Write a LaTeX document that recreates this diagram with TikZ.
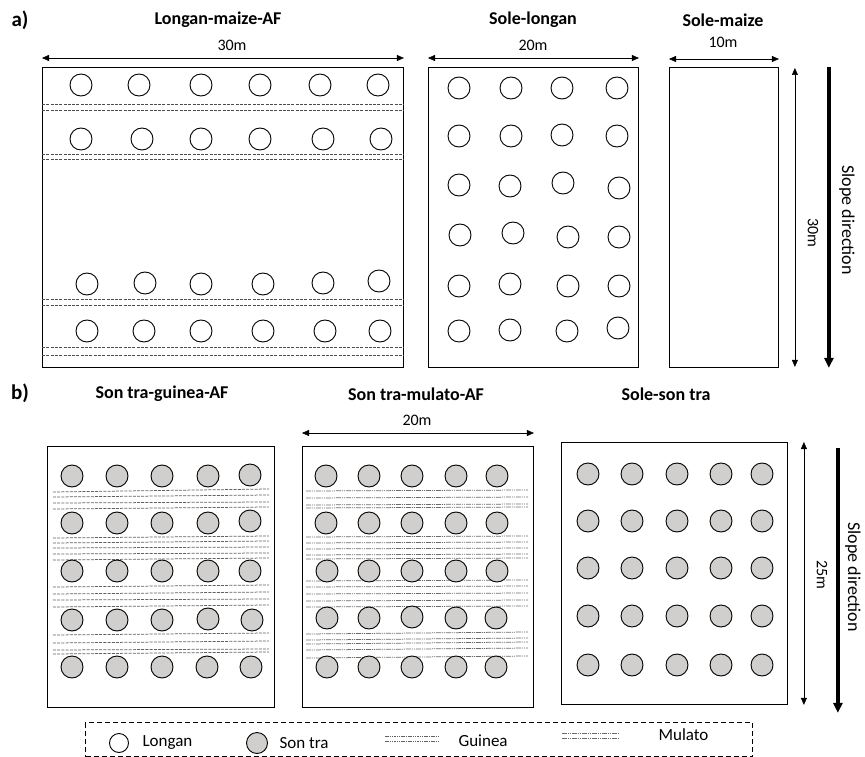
\documentclass[tikz,border=0pt]{standalone}
\usepackage{fontspec}
\setmainfont{Carlito}
\usetikzlibrary{arrows.meta}
\definecolor{treegray}{RGB}{208,207,206}
\begin{document}
\begin{tikzpicture}[x=1pt,y=-1pt,
  plot/.style={draw, line width=0.9pt, inner sep=0pt, anchor=north west},
  longan/.style={circle, draw, line width=0.9pt, minimum size=22pt, inner sep=0pt},
  sontra/.style={longan, fill=treegray},
  dim/.style={{Triangle[length=7pt,width=6pt]}-{Triangle[length=7pt,width=6pt]}, line width=0.5pt},
  slope/.style={-{Triangle[length=10pt,width=9pt]}, line width=3.5pt},
  title/.style={font=\fontsize{18}{20}\selectfont\bfseries},
  dimtext/.style={font=\fontsize{16}{18}\selectfont},
  legtext/.style={font=\fontsize{17}{19}\selectfont, anchor=west},
  panel/.style={font=\fontsize{21}{23}\selectfont\bfseries},
  rowline/.style={black!70, line width=0.6pt, dash pattern=on 3pt off 1.3pt},
  guinea/.style={black!62, line width=0.75pt, dash pattern=on 3pt off 1.2pt},
  mulato/.style={black!58, line width=0.75pt, dash pattern=on 5pt off 1pt on 1pt off 1pt on 1pt off 1pt},
]
\useasboundingbox (0,0) rectangle (865,757);

% ---------- panel a ----------
\node[panel] (la) at (20,20) {a)};
\node[title] (t1) at (218,20) {Longan-maize-AF};
\node[title] (t2) at (533,20) {Sole-longan};
\node[title] (t3) at (723,20) {Sole-maize};

\node[plot, minimum width=361pt, minimum height=300pt] (p1) at (42,67) {};
\node[plot, minimum width=210pt, minimum height=300pt] (p2) at (428,67) {};
\node[plot, minimum width=109pt, minimum height=300pt] (p3) at (669,67) {};

\draw[dim] ([yshift=9pt]p1.north west) -- ([yshift=9pt]p1.north east);
\draw[dim] ([yshift=9pt]p2.north west) -- ([yshift=9pt]p2.north east);
\draw[dim] ([yshift=8pt]p3.north west) -- ([yshift=8pt]p3.north east);
\node[dimtext] (d1) at (232,45) {30m};
\node[dimtext] (d2) at (533,45) {20m};
\node[dimtext] (d3) at (723,42) {10m};

\draw[dim] ([xshift=16pt,yshift=-1pt]p3.north east) -- ([xshift=16pt,yshift=1pt]p3.south east);
\node[dimtext, rotate=-90] (d4) at (813,233) {30m};
\draw[slope] ([xshift=50pt]p3.north east) -- ([xshift=50pt]p3.south east);
\node[dimtext, font=\fontsize{18}{20}\selectfont, rotate=-90] (s1) at (847,220) {Slope direction};

% longan-maize rows
\foreach \x [count=\i] in {81,139,201,260,320,378} \node[longan] (a1-\i) at (\x,85) {};
\foreach \x [count=\i] in {81,142,201,260,323,381} \node[longan] (a2-\i) at (\x,139) {};
\foreach \x/\y [count=\i] in {87/284,145/283,201/284,263/284,323/283,379/281} \node[longan] (a3-\i) at (\x,\y) {};
\foreach \x [count=\i] in {87,144,201,263,325,380} \node[longan] (a4-\i) at (\x,331) {};
\foreach \y in {104,110,154,159.5,299,305,347,355}
  \draw[rowline] (p1.west |- 0,\y) -- (p1.east |- 0,\y);

% sole longan
\foreach \x/\y [count=\i] in {459/88,511/88,562/88,617/88,
  459/136,511/136,562/135,617/136,
  459/185,510/186,563/183,619/188,
  460/235,513/233,568/237,619/237,
  459/286,510/284,568/286,619/286,
  459/331,510/330,567/331,618/328}
  \node[longan] (b-\i) at (\x,\y) {};

% ---------- panel b ----------
\node[panel] (lb) at (20,393) {b)};
\node[title] (t4) at (162,394) {Son tra-guinea-AF};
\node[title] (t5) at (416,394) {Son tra-mulato-AF};
\node[title] (t6) at (666,394) {Sole-son tra};

\node[plot, minimum width=227pt, minimum height=261pt] (p4) at (47,446) {};
\node[plot, minimum width=231pt, minimum height=261pt] (p5) at (302,446) {};
\node[plot, minimum width=226pt, minimum height=262pt] (p6) at (561,442) {};

\draw[dim] ([yshift=13pt]p5.north west) -- ([yshift=13pt]p5.north east);
\node[dimtext] (d5) at (417,420) {20m};
\draw[dim] ([xshift=16pt]p6.north east) -- ([xshift=16pt]p6.south east);
\node[dimtext, rotate=-90] (d6) at (822,575) {25m};
\draw[slope] ([xshift=50pt,yshift=-6pt]p6.north east) -- ([xshift=50pt,yshift=-8pt]p6.south east);
\node[dimtext, font=\fontsize{18}{20}\selectfont, rotate=-90] (s2) at (853,577) {Slope direction};

% guinea lines
\foreach \ya/\yb in {492/489, 497/495, 503/502, 509/507,
  538/536, 543/541, 548/547, 554/553, 560/558,
  587/585, 594/592, 600/599, 607/605,
  635/633, 643/641, 650/649, 654/652}
  \draw[guinea] (53,\ya) -- (269,\yb);
\foreach \x/\y [count=\i] in {72/476,117/476,162/476,208/476,250/475,
  72/523,117/523,162/523,208/523,250/521,
  72/571,117/571,162/571,208/571,250/571,
  72/620,117/620,162/620,208/619,252/620,
  72/667,117/667,162/667,207/667,251/667}
  \node[sontra] (g-\i) at (\x,\y) {};

% mulato lines
\foreach \ya/\yb in {491/490, 498/497, 505/504, 508/507,
  537/536, 543/542, 549/548, 555/554, 559/558,
  581/580, 587/586, 594/593, 601/600, 607/606,
  634/632, 640/638, 644/642, 650/648, 658/656}
  \draw[mulato] (306,\ya) -- (528,\yb);
\foreach \x/\y [count=\i] in {326/476,369/476,412/476,456/476,497/476,
  326/523,369/523,412/523,456/523,497/523,
  327/571,369/571,412/571,456/571,497/571,
  327/618,369/618,412/617,456/618,496/618,
  327/667,369/667,412/667,456/667,496/667}
  \node[sontra] (m-\i) at (\x,\y) {};

% sole son tra
\foreach \y [count=\r] in {474,521,568,616,665}
  \foreach \x [count=\c] in {588,632,677,721,762}
    \node[sontra] (s-\r-\c) at (\x,\y) {};

% ---------- legend ----------
\node[draw, line width=1pt, dash pattern=on 5pt off 3pt, minimum width=667pt, minimum height=34pt, anchor=north west, inner sep=0pt] (leg) at (85,722) {};
\node[longan, minimum size=19pt] (k1) at (119,743) {};
\node[legtext] (k1t) at (139,743) {Longan};
\node[sontra, minimum size=21pt] (k2) at (257,743) {};
\node[legtext] (k2t) at (276,743) {Son tra};
\coordinate (g1a) at (385,736); \coordinate (g1b) at (440,736);
\coordinate (g2a) at (385,741); \coordinate (g2b) at (440,741);
\draw[guinea, line width=0.6pt, dash pattern=on 1.5pt off 0.8pt] (g1a) -- (g1b);
\draw[guinea, line width=0.6pt, dash pattern=on 1.5pt off 0.8pt] (g2a) -- (g2b);
\node[legtext] (k3t) at (455,741) {Guinea};
\coordinate (m1a) at (562,733); \coordinate (m1b) at (620,733);
\coordinate (m2a) at (562,738); \coordinate (m2b) at (620,738);
\draw[mulato, line width=0.6pt] (m1a) -- (m1b);
\draw[mulato, line width=0.6pt] (m2a) -- (m2b);
\node[legtext] (k4t) at (655,735) {Mulato};
\end{tikzpicture}
\end{document}
